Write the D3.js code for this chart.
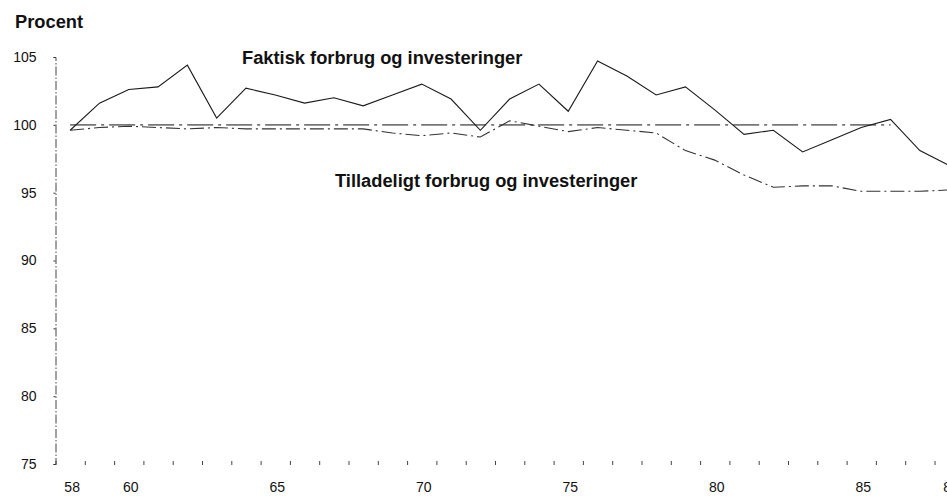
<!DOCTYPE html>
<html>
<head>
<meta charset="utf-8">
<script src="https://cdn.jsdelivr.net/npm/d3@7"></script>
<style>
  html, body { margin: 0; padding: 0; background: #fff; overflow: hidden; }
  svg { display: block; font-family: "Liberation Sans", Arial, Helvetica, sans-serif; }
</style>
</head>
<body>
<svg id="chart" width="947" height="499"></svg>
<script>
// ---- data ----
const years = [58,59,60,61,62,63,64,65,66,67,68,69,70,71,72,73,74,75,76,77,78,79,80,81,82,83,84,85,86,87,88];
const faktisk = [99.6,101.6,102.6,102.8,104.4,100.5,102.7,102.2,101.6,102.0,101.4,102.2,103.0,101.9,99.6,101.9,103.0,101.0,104.7,103.6,102.2,102.8,101.1,99.3,99.6,98.0,98.9,99.8,100.4,98.1,97.0];
const tilladeligt = [99.6,99.8,99.9,99.8,99.7,99.8,99.7,99.7,99.7,99.7,99.7,99.4,99.2,99.4,99.1,100.3,99.9,99.5,99.8,99.6,99.4,98.1,97.4,96.3,95.4,95.5,95.5,95.1,95.1,95.1,95.2];
const reference = [100,100,100,100,100,100,100,100,100,100,100,100,100,100,100,100,100,100,100,100,100,100,100,100,100,100,100,100,100,null,null];
const yTicks = [75,80,85,90,95,100,105];
const xLabelYears = [58,60,65,70,75,80,85,88];
const titleY = "Procent";
const labelFaktisk = "Faktisk forbrug og investeringer";
const labelTilladeligt = "Tilladeligt forbrug og investeringer";

// ---- layout ----
const svg = d3.select("#chart");
const left = 55.5, bandW = 29.3;
const x = d3.scaleBand().domain(years).range([left, left + bandW * years.length]).padding(0);
const y = d3.scaleLinear().domain([75, 105]).range([464, 57]);
const cx = d => x(d) + x.bandwidth() / 2;

// y axis
const yAxis = d3.axisLeft(y).tickValues(yTicks).tickSize(2).tickPadding(17).tickFormat(d3.format("d"));
const gy = svg.append("g").attr("transform", `translate(${left},0)`).call(yAxis);
gy.select(".domain").attr("stroke", "#444").attr("stroke-width", 1).attr("stroke-dasharray", "9,2,1.5,2");
gy.selectAll(".tick line").attr("stroke", "#333");
gy.selectAll(".tick text").attr("font-size", 14).attr("fill", "#111")
  .attr("font-family", '"Liberation Sans", Arial, sans-serif');

// x axis tick marks at category boundaries (linear index scale)
const xb = d3.scaleLinear().domain([0, years.length]).range([left, left + bandW * years.length]);
const xAxisTicks = d3.axisBottom(xb).tickValues(d3.range(0, years.length + 1)).tickSize(4).tickFormat("");
const gxt = svg.append("g").attr("transform", "translate(0,461)").call(xAxisTicks);
gxt.select(".domain").remove();
gxt.selectAll(".tick line").attr("stroke", "#444");

// x axis labels
const xAxis = d3.axisBottom(x).tickValues(xLabelYears).tickSize(0).tickPadding(0).tickFormat(d => d);
const gx = svg.append("g").attr("transform", "translate(2,482)").call(xAxis);
gx.select(".domain").remove();
gx.selectAll(".tick text").attr("font-size", 14).attr("fill", "#111")
  .attr("font-family", '"Liberation Sans", Arial, sans-serif');

// lines
const lineGen = vals => d3.line()
  .defined((d, i) => vals[i] !== null)
  .x(d => cx(d))
  .y((d, i) => y(vals[i]));

svg.append("path").datum(years)
  .attr("d", lineGen(reference))
  .attr("fill", "none").attr("stroke", "#777").attr("stroke-width", 1.6)
  .attr("stroke-dasharray", "26,5,3,5");

svg.append("path").datum(years)
  .attr("d", lineGen(tilladeligt))
  .attr("fill", "none").attr("stroke", "#333").attr("stroke-width", 1.1)
  .attr("stroke-dasharray", "14,4,2,4");

svg.append("path").datum(years)
  .attr("d", lineGen(faktisk))
  .attr("fill", "none").attr("stroke", "#1a1a1a").attr("stroke-width", 1.1);

// texts
svg.append("text").attr("x", 15).attr("y", 28).text(titleY)
  .attr("font-size", 18.3).attr("font-weight", "bold").attr("fill", "#111");
svg.append("text").attr("x", 242).attr("y", 64).text(labelFaktisk)
  .attr("font-size", 18.3).attr("font-weight", "bold").attr("fill", "#111");
svg.append("text").attr("x", 335).attr("y", 187).text(labelTilladeligt)
  .attr("font-size", 18.3).attr("font-weight", "bold").attr("fill", "#111");
</script>
</body>
</html>
